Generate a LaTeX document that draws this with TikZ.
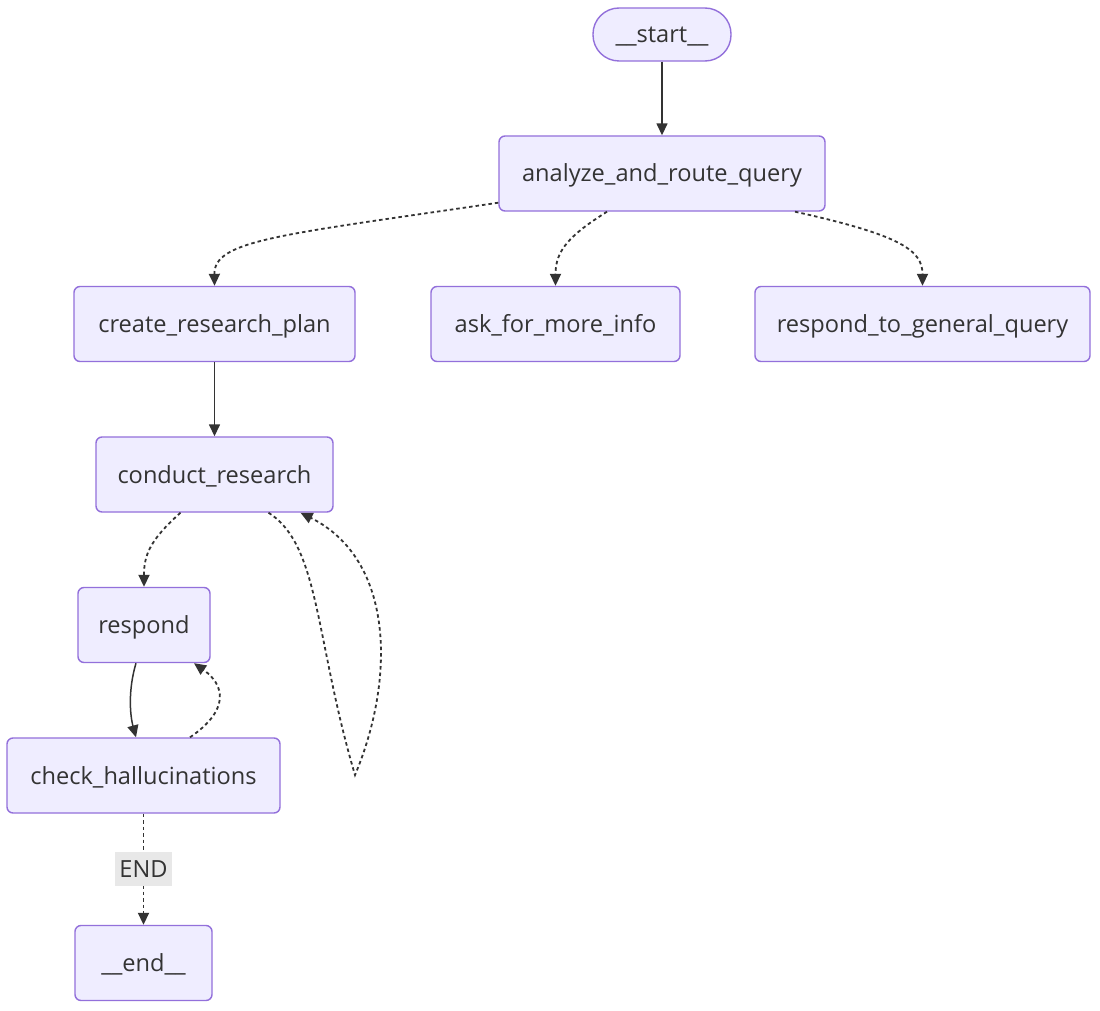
\documentclass[tikz,border=0pt]{standalone}
\usepackage{fontspec}
\setmainfont{Open Sans}
\usetikzlibrary{arrows.meta,calc}
\definecolor{nodefill}{HTML}{EFEDFF}
\definecolor{nodeborder}{HTML}{9370DB}
\definecolor{textc}{HTML}{333333}
\definecolor{edgec}{HTML}{333333}
\definecolor{labelfill}{HTML}{E8E8E8}
\begin{document}
\begin{tikzpicture}[x=1pt,y=-1pt,
  font=\fontsize{23.6}{28}\selectfont,
  box/.style={draw=nodeborder, fill=nodefill, line width=1.4pt, rounded corners=6pt,
    minimum height=75pt, text=textc, inner sep=0pt, text height=22pt, text depth=5pt},
  startbox/.style={box, rounded corners=26pt, minimum height=53pt},
  solidedge/.style={draw=edgec, line width=1.5pt, -{Triangle[length=12pt,width=11pt]}},
  dotedge/.style={draw=edgec, line width=1.8pt, dash pattern=on 3.5pt off 3pt,
    -{Triangle[length=12pt,width=11pt]}},
  edgelabel/.style={fill=labelfill, text=textc, inner sep=0pt, minimum width=57pt,
    minimum height=34pt, text height=16pt, text depth=0pt}
  ]
\useasboundingbox (0,0) rectangle (1100,1011);
\fill[white] (0,0) rectangle (1100,1011);

\node[startbox, minimum width=138pt] (start) at (662,34.5) {\_\_start\_\_};
\node[box, minimum width=326pt] (analyze) at (662,173.5) {analyze\_and\_route\_query};
\node[box, minimum width=281pt] (plan) at (214.5,324) {create\_research\_plan};
\node[box, minimum width=249pt] (ask) at (555.5,324) {ask\_for\_more\_info};
\node[box, minimum width=335pt] (general) at (922.5,324) {respond\_to\_general\_query};
\node[box, minimum width=237pt] (conduct) at (214.5,474.5) {conduct\_research};
\node[box, minimum width=132pt] (respond) at (144,625) {respond};
\node[box, minimum width=273pt] (check) at (143.5,775.5) {check\_hallucinations};
\node[box, minimum width=137pt] (end) at (143.5,963) {\_\_end\_\_};

\draw[solidedge] (start) -- (analyze);
\draw[dotedge] ([yshift=9pt]analyze.south west) .. controls (280,235) and (214,240) .. (plan.north);
\draw[dotedge] ([xshift=-55pt]analyze.south) .. controls (570,235) and (555.5,250) .. (ask.north);
\draw[dotedge] ([xshift=133pt]analyze.south) .. controls (900,235) and (922.5,250) .. (general.north);
\draw[solidedge] (plan) -- (conduct);
\draw[dotedge] ([xshift=-34pt]conduct.south) .. controls (150,540) and (144,555) .. (respond.north);
\coordinate (looptip) at (355,775);
\draw[dotedge] ([xshift=54pt]conduct.south) .. controls (320,545) and (315,640) .. (looptip)
  .. controls (395,680) and (395,560) .. ([xshift=86pt]conduct.south);
\draw[solidedge] ([xshift=-8pt]respond.south) .. controls (128,690) and (130,715) .. ([xshift=-7.5pt]check.north);
\draw[dotedge] ([xshift=46.5pt]check.north) .. controls (230,710) and (225,685) .. ([xshift=50pt]respond.south);
\draw[dotedge] (check) -- node[edgelabel] (endlabel) {END} (end);
\end{tikzpicture}
\end{document}
